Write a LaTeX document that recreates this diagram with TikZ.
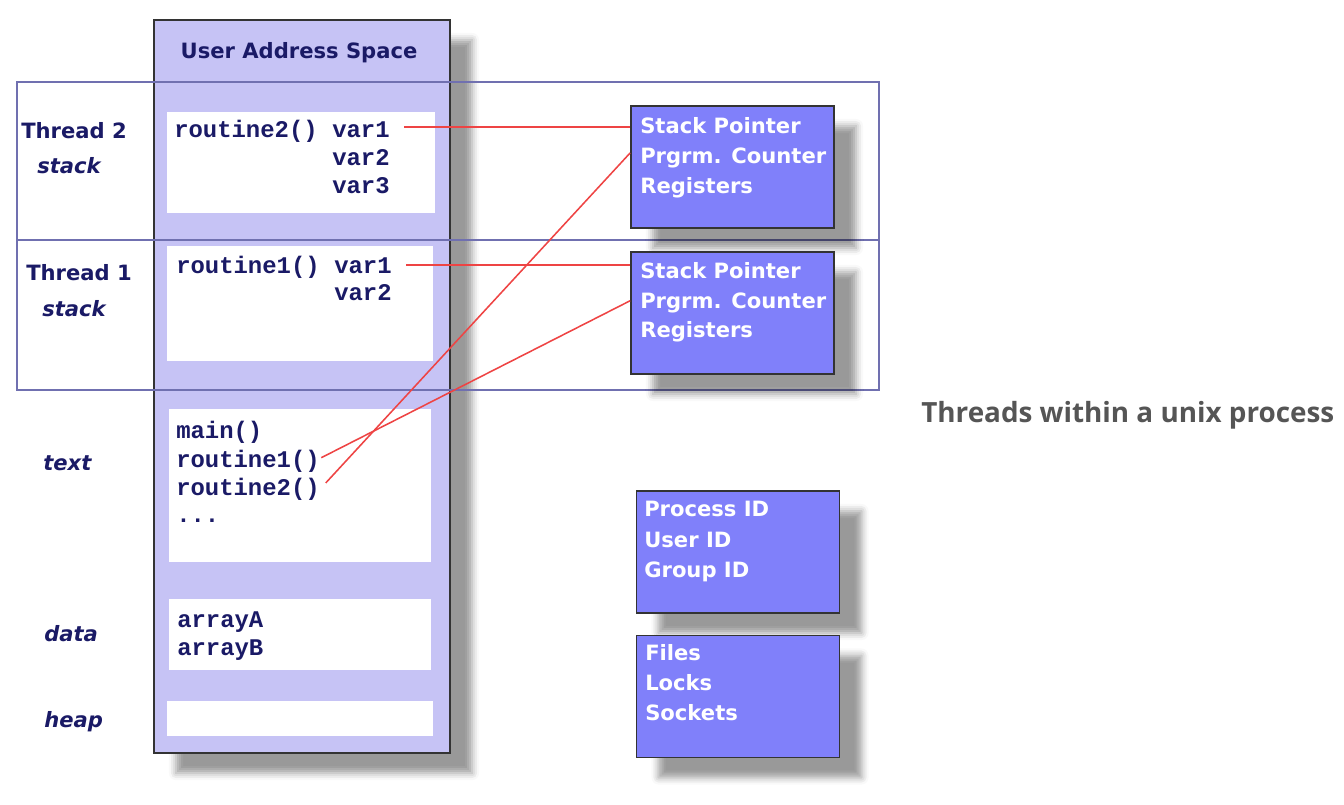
\documentclass[tikz,border=0pt]{standalone}
\usepackage{fontspec}
\newfontfamily\verd{DejaVu Sans}[BoldFont={DejaVu Sans Bold},ItalicFont={DejaVu Sans Oblique},BoldItalicFont={DejaVu Sans Bold Oblique}]
\newfontfamily\cour{Liberation Mono}
\newfontfamily\opsans{Open Sans}
\usetikzlibrary{shadows.blur}

\definecolor{navy}{HTML}{1A1A66}
\definecolor{lavender}{HTML}{C6C3F5}
\definecolor{regblue}{HTML}{8080FA}
\definecolor{bandline}{HTML}{7070B0}
\definecolor{redline}{HTML}{EE4444}
\definecolor{titlegray}{HTML}{555555}

\tikzset{
  seg/.style={fill=white,inner sep=0pt},
  lbl/.style={anchor=base west,inner sep=0pt,text=navy,font=\verd\bfseries\fontsize{15}{18}\selectfont},
  slbl/.style={lbl,font=\verd\bfseries\itshape\fontsize{15}{18}\selectfont},
  code/.style={anchor=base west,inner sep=0pt,text=navy,font=\cour\bfseries\fontsize{17}{20}\selectfont},
  dropshadow/.style={blur shadow={shadow xshift=0.55cm,shadow yshift=-0.5cm,shadow blur radius=5pt}},
  regbox/.style={draw=black!80,line width=1.2pt,fill=regblue,minimum width=5.075cm,minimum height=3.05cm,dropshadow},
  regtxt/.style={anchor=base west,inner sep=0pt,text=white,font=\verd\bfseries\fontsize{15}{18}\selectfont},
  link/.style={draw=redline,line width=1.1pt},
}

\begin{document}
\begin{tikzpicture}[x=0.025cm,y=-0.025cm]
  \useasboundingbox (0,0) rectangle (1344,804);

  % address space column
  \node[draw=black!80,line width=1.2pt,fill=lavender,minimum width=7.4cm,minimum height=18.325cm,dropshadow] (uas) at (302,386.5) {};
  \node[lbl,anchor=base] (uastitle) at (299,58) {User Address Space};

  % thread stack bands
  \draw[bandline,line width=1pt] (17,82) rectangle (879,390) (17,240) -- (879,240);

  % segments
  \node[seg,minimum width=6.7cm,minimum height=2.525cm] (stk2) at (301,162.5) {};
  \node[seg,minimum width=6.65cm,minimum height=2.875cm] (stk1) at (300,303.5) {};
  \node[seg,minimum width=6.55cm,minimum height=3.825cm] (txt) at (300,485.5) {};
  \node[seg,minimum width=6.55cm,minimum height=1.775cm] (dat) at (300,634.5) {};
  \node[seg,minimum width=6.65cm,minimum height=0.875cm] (hp) at (300,718.5) {};

  % segment labels
  \node[lbl] (thr2) at (21,138) {Thread 2};
  \node[slbl] (thr2stk) at (37,173) {stack};
  \node[lbl] (thr1) at (26,280) {Thread 1};
  \node[slbl] (thr1stk) at (42,316) {stack};
  \node[slbl] (txtlbl) at (43,470) {text};
  \node[slbl] (datlbl) at (44,641) {data};
  \node[slbl] (hplbl) at (44,727) {heap};

  % contents
  \node[code] (r2) at (174,137) {routine2()};
  \node[code] (t2v1) at (332,137) {var1};
  \node[code] (t2v2) at (332,165) {var2};
  \node[code] (t2v3) at (332,193) {var3};
  \node[code] (r1) at (176,273) {routine1()};
  \node[code] (t1v1) at (334,273) {var1};
  \node[code] (t1v2) at (334,300) {var2};
  \node[code] (tmain) at (176,438) {main()};
  \node[code] (tr1) at (176,467) {routine1()};
  \node[code] (tr2) at (176,495) {routine2()};
  \node[code] (tdots) at (176,522) {...};
  \node[code] (arra) at (177,627) {arrayA};
  \node[code] (arrb) at (177,655) {arrayB};

  % per-thread registers
  \node[regbox] (ts2) at (732.5,167) {};
  \node[regtxt] (ts2sp) at (640,133) {Stack Pointer};
  \node[regtxt] (ts2pc) at (640,163) {Prgrm. Counter};
  \node[regtxt] (ts2rg) at (640,193) {Registers};
  \node[regbox] (ts1) at (732.5,313) {};
  \node[regtxt] (ts1sp) at (640,278) {Stack Pointer};
  \node[regtxt] (ts1pc) at (640,308) {Prgrm. Counter};
  \node[regtxt] (ts1rg) at (640,337) {Registers};

  % process wide resources
  \node[regbox] (proc) at (738,552) {};
  \node[regtxt] (pid) at (644,516) {Process ID};
  \node[regtxt] (uid) at (644,547) {User ID};
  \node[regtxt] (gid) at (644,577) {Group ID};
  \node[regbox] (res) at (738,696.5) {};
  \node[regtxt] (files) at (645,660) {Files};
  \node[regtxt] (locks) at (645,690) {Locks};
  \node[regtxt] (socks) at (645,720) {Sockets};

  % links
  \draw[link,shorten <=10pt] ([yshift=5pt]t2v1.mid east) -- ([yshift=5pt]t2v1.mid east -| ts2.west);
  \draw[link,shorten <=10pt] ([yshift=3.4pt]t1v1.mid east) -- ([yshift=3.4pt]t1v1.mid east -| ts1.west);
  \draw[link,shorten <=1pt] ([yshift=4pt]tr1.mid east) -- ([yshift=3pt]ts1.west |- ts1pc.mid);
  \draw[link,shorten <=6pt] ([yshift=2pt]tr2.mid east) -- ([yshift=5pt]ts2.west |- ts2pc.mid);

  \node[anchor=base west,inner sep=0pt,text=titlegray,font=\opsans\bfseries\fontsize{19.8}{22}\selectfont] (caption) at (921,422) {Threads within a unix process};
\end{tikzpicture}
\end{document}
